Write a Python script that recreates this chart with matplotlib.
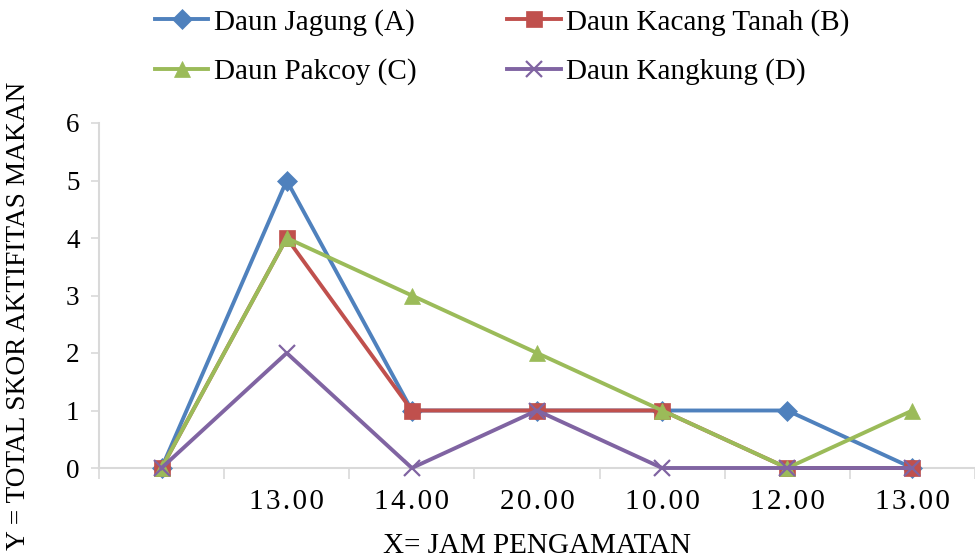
import matplotlib
matplotlib.use("Agg")
import matplotlib.pyplot as plt

plt.rcParams['font.family'] = ['Liberation Serif', 'DejaVu Serif']

# Observation times (first slot is the unlabeled start)
categories = ["", "13.00", "14.00", "20.00", "10.00", "12.00", "13.00"]

series_names = ["Daun Jagung (A)", "Daun Kacang Tanah (B)",
                "Daun Pakcoy (C)", "Daun Kangkung (D)"]
jagung = [0, 5, 1, 1, 1, 1, 0]
kacang_tanah = [0, 4, 1, 1, 1, 0, 0]
pakcoy = [0, 4, 3, 2, 1, 0, 1]
kangkung = [0, 2, 0, 1, 0, 0, 0]

colors = ["#4F81BD", "#C0504D", "#9BBB59", "#8064A2"]
markers = ["D", "s", "^", "x"]
msizes = [10, 12, 12, 11]

fig = plt.figure(figsize=(9.75, 5.6), dpi=100)
ax = fig.add_axes([99 / 975, 92 / 560, 876 / 975, 345 / 560])

x = list(range(len(categories)))
for vals, name, c, m, ms in zip([jagung, kacang_tanah, pakcoy, kangkung],
                                series_names, colors, markers, msizes):
    ax.plot(x, vals, color=c, lw=2.8, marker=m, markersize=ms,
            markeredgewidth=1.6 if m == "x" else 0.5, markeredgecolor=c,
            label=name, clip_on=False, zorder=3)

ax.set_ylim(0, 6)
ax.set_yticks(range(0, 7))
ax.set_xlim(-0.5, -0.5 + 876 / 126)

# category labels sit under each point; tick marks sit at category boundaries
spaced = ["\u200a".join(list(c)) for c in categories]
ax.set_xticks(x)
ax.set_xticklabels(spaced, fontsize=21)
ax.tick_params(axis="x", which="major", length=0, pad=15)
ax.set_xticks([i - 0.5 for i in range(len(categories) + 1)], minor=True)
ax.tick_params(axis="x", which="minor", length=8, width=1.2, color="#D9D9D9",
               direction="out")
ax.tick_params(axis="y", length=6, width=1.2, color="#D9D9D9", pad=8,
               labelsize=19.5)

for s in ["top", "right"]:
    ax.spines[s].set_visible(False)
for s in ["left", "bottom"]:
    ax.spines[s].set_color("#D9D9D9")
    ax.spines[s].set_linewidth(1.5)

ax.set_xlabel("X= JAM PENGAMATAN", fontsize=21)
ax.xaxis.set_label_coords(0.5, -0.188)
ax.set_ylabel("Y = TOTAL SKOR AKTIFITAS MAKAN", fontsize=19.7)
ax.yaxis.set_label_coords(-68 / 876, 0.44)

handles, labels = ax.get_legend_handles_labels()
order = [0, 2, 1, 3]
fig.legend([handles[i] for i in order], [labels[i] for i in order],
           ncol=2, loc="upper left", bbox_to_anchor=(155 / 975, 1 - 9 / 560),
           frameon=False, fontsize=21, handlelength=1.83, handletextpad=0.2,
           labelspacing=0.76, columnspacing=3.1, borderpad=0.0,
           borderaxespad=0.0)

fig.savefig("out.png", dpi=100)
